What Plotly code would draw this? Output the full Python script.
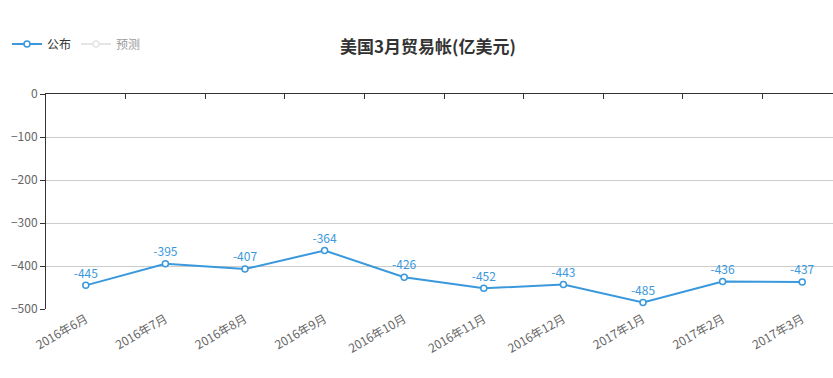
import plotly.graph_objects as go

categories = ["2016年6月", "2016年7月", "2016年8月", "2016年9月", "2016年10月",
              "2016年11月", "2016年12月", "2017年1月", "2017年2月", "2017年3月"]
published = [-445, -395, -407, -364, -426, -452, -443, -485, -436, -437]
forecast = [None, None, None, None, None, None, None, None, None, None]
y_ticks = [0, -100, -200, -300, -400, -500]

BLUE = "#3a98dc"
GRAY = "#cccccc"
FONT = "Noto Sans CJK SC"
idx = list(range(len(categories)))

fig = go.Figure()
fig.add_trace(go.Scatter(
    x=idx, y=published, name="公布", mode="lines+markers+text",
    line=dict(color=BLUE, width=2),
    marker=dict(symbol="circle", size=6, color="white", line=dict(color=BLUE, width=1.5)),
    text=[str(v) for v in published], textposition="top center",
    textfont=dict(color=BLUE, size=12, family=FONT),
    cliponaxis=False,
))
fig.add_trace(go.Scatter(
    x=idx, y=forecast, name="预测", mode="lines+markers",
    line=dict(color=GRAY, width=2),
    marker=dict(symbol="circle", size=6, color="white", line=dict(color=GRAY, width=1.5)),
    visible="legendonly",
))
# helper trace to activate top axis with boundary ticks
fig.add_trace(go.Scatter(x=[0], y=[0], xaxis="x2", mode="markers",
                         marker=dict(opacity=0), showlegend=False, hoverinfo="skip"))

xr = [-0.5, 9.387]
fig.update_layout(
    width=833, height=378,
    margin=dict(l=46, r=0, t=94, b=69, autoexpand=False),
    paper_bgcolor="white", plot_bgcolor="white",
    font=dict(family=FONT, size=12, color="#666"),
    title=dict(text="<b>美国3月贸易帐(亿美元)</b>", x=428/833, xref="container",
               y=1-47/378, yref="container", xanchor="center", yanchor="middle",
               font=dict(size=17, color="#333", family=FONT)),
    legend=dict(orientation="h", xref="container", yref="container",
                x=7/833, y=1-44/378, xanchor="left", yanchor="middle",
                font=dict(size=12, color="#333", family=FONT),
                itemwidth=30, bgcolor="rgba(0,0,0,0)"),
    xaxis=dict(range=xr, tickvals=idx, ticktext=categories, tickangle=-30,
               showgrid=False, showline=False, ticks="", zeroline=False,
               automargin=False, tickfont=dict(size=12, color="#666")),
    xaxis2=dict(range=xr, overlaying="x", side="top", showline=True,
                linecolor="#333", linewidth=1, tickvals=[i + 0.5 for i in idx],
                ticks="inside", ticklen=5, tickcolor="#333", showticklabels=False,
                showgrid=False, zeroline=False, automargin=False),
    yaxis=dict(range=[-500, 0], tickvals=y_ticks, showline=True, linecolor="#333",
               linewidth=1, ticks="outside", ticklen=5, tickcolor="#333",
               showgrid=True, gridcolor="#ccc", gridwidth=1, zeroline=False,
               automargin=False, tickfont=dict(size=12, color="#666")),
    showlegend=True,
)
fig.write_html("out.html", config={"displayModeBar": False},
               post_script="document.body.style.margin='0';")
